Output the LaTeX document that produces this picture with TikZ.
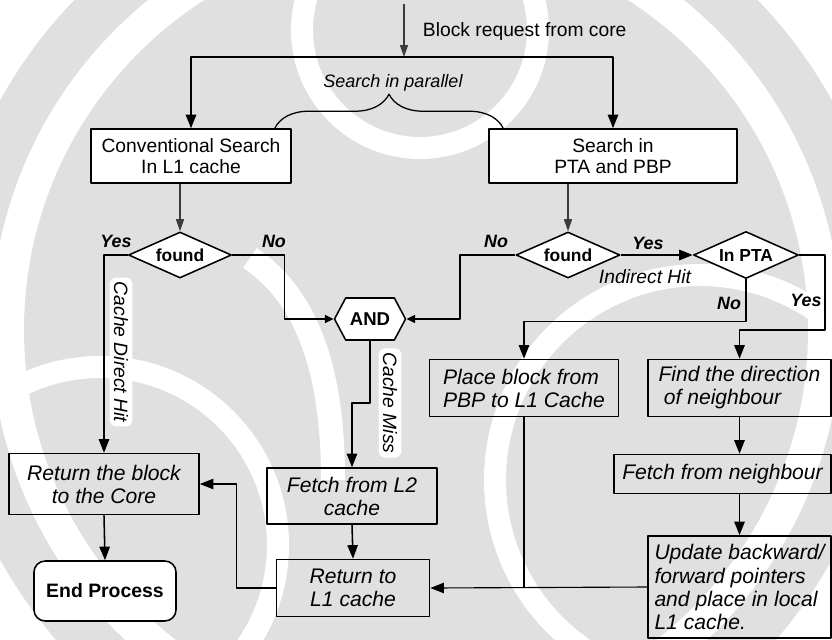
\documentclass[tikz,border=0pt]{standalone}
\usepackage{fontspec}
\setmainfont{Liberation Sans}
\usetikzlibrary{arrows.meta,shapes.geometric,shapes.symbols,decorations.pathreplacing}
\definecolor{wmgray}{RGB}{224,224,224}
\definecolor{tipgray}{RGB}{60,60,60}

\tikzset{
  plainbox/.style={draw, line width=1.1pt, fill=white, align=center, inner sep=2pt, font=\fontsize{13.7}{15}\selectfont},
  stepbox/.style={draw, line width=1.1pt, align=center, inner sep=2pt, font=\fontsize{15}{16.4}\selectfont\itshape},
  decision/.style={diamond, aspect=2.25, draw, line width=1.1pt, fill=white, inner sep=0pt, font=\fontsize{12.4}{14}\selectfont\bfseries},
  gate/.style={signal, signal to=east and west, signal pointer angle=124, draw, line width=1.1pt, fill=white, inner sep=0pt, font=\fontsize{13.2}{15}\selectfont\bfseries},
  answer/.style={font=\fontsize{12.7}{14}\selectfont\bfseries\itshape, inner sep=0pt},
  note/.style={font=\fontsize{13.7}{15}\selectfont\itshape, inner sep=1pt},
  sidenote/.style={note, fill=white, rounded corners=4pt, inner sep=3pt, rotate=-90},
  flow/.style={->, line width=1.1pt},
  thinflow/.style={->, line width=0.8pt},
  smallflow/.style={flow, >={Triangle[length=0.22cm,width=0.2cm]}},
  feed/.style={->, line width=0.9pt, draw=tipgray, fill=tipgray, >={Triangle[length=0.3cm,width=0.2cm]}},
}

\begin{document}
\begin{tikzpicture}[x=0.025cm, y=-0.025cm, line join=round, >={Triangle[length=0.34cm,width=0.26cm]}]
\useasboundingbox (0,0) rectangle (832,639);
% watermark behind the chart
\begin{scope}
\clip (0,0) rectangle (832,639);
\fill[wmgray] (416,330) circle (475);
\fill[white] (416,330) circle (425);
\fill[wmgray] (416,330) circle (392);
\draw[white, line width=0.55cm] (420,30) circle (118);
\draw[white, line width=0.55cm] (700,480) circle (205);
\draw[white, line width=0.55cm] (100,545) circle (178);
\draw[white, line width=0.6cm] (250,258) .. controls (312,300) and (333,380) .. (333,480);
\end{scope}

% searches
\node[plainbox, minimum width=5cm, minimum height=1.35cm] (conv) at (191,156) {Conventional Search\\In L1 cache};
\node[plainbox, minimum width=6.2cm, minimum height=1.35cm] (ptasearch) at (613,156) {Search in\\PTA and PBP};
\node[anchor=west, font=\fontsize{13.7}{15}\selectfont] (request) at (418,32) {Block request from core};
\node[note, font=\fontsize{12.8}{14}\selectfont\itshape] (parallel) at (393,83) {Search in parallel};

% decisions
\node[decision, minimum width=2.575cm, minimum height=1.15cm] (found1) at (180,255) {found};
\node[decision, minimum width=2.6cm, minimum height=1.15cm] (found2) at (568,255) {found};
\node[decision, minimum width=2.625cm, minimum height=1.175cm] (inpta) at (746,255) {In PTA};
\node[gate, minimum width=1.775cm, minimum height=1.05cm] (andgate) at (370,319) {AND};

% steps
\node[stepbox, minimum width=4.75cm, minimum height=1.525cm] (retcore) at (104,484) {Return the block\\to the Core};
\node[plainbox, rounded corners=0.28cm, font=\fontsize{13.8}{15}\selectfont\bfseries, minimum width=3.55cm, minimum height=1.5cm] (endproc) at (105,591) {End Process};
\node[stepbox, minimum width=4.25cm, minimum height=1.4cm] (fetchl2) at (352,496) {Fetch from L2\\cache};
\node[stepbox, minimum width=3.825cm, minimum height=1.425cm] (retl1) at (353,588) {Return to\\L1 cache};
\node[stepbox, align=left, minimum width=4.725cm, minimum height=1.425cm] (place) at (524,388) {Place block from\\PBP to L1 Cache};
\node[stepbox, align=left, minimum width=4.575cm, minimum height=1.425cm] (finddir) at (739.5,388) {Find the direction\\\hspace{0.25em}of neighbour};
\node[stepbox, minimum width=5.425cm, minimum height=0.975cm] (fetchnb) at (722.5,474) {Fetch from neighbour};
\node[stepbox, align=left, minimum width=4.575cm, minimum height=2.55cm] (update) at (739.5,587) {Update backward/\\forward pointers\\and place in local\\L1 cache.};

% branch labels
\node[answer] (yes1) at (116,241) {Yes};
\node[answer] (no1) at (274,241) {No};
\node[answer] (no2) at (496,241) {No};
\node[answer] (yes2) at (648,243) {Yes};
\node[note] (indirect) at (645,277) {Indirect Hit};
\node[answer] (no3) at (729,303) {No};
\node[answer] (yes3) at (806,300) {Yes};
\node[sidenote] (directhit) at (121,352) {Cache Direct Hit};
\node[sidenote] (cachemiss) at (390,403) {Cache Miss};

% connectors
\coordinate (source) at (404,4);
\coordinate (fork) at (404,57);
\coordinate (yesbend) at (825,330);
\coordinate (missbend) at (370,403);
\draw[feed] (source) -- (fork);
\draw[flow] (fork) -| (conv.north);
\draw[flow] (fork) -| (ptasearch.north);
\draw[decorate, decoration={brace, amplitude=0.85cm}, line width=0.9pt] ([xshift=-0.425cm]conv.north east) -- ([xshift=0.375cm]ptasearch.north west);
\draw[feed] (conv.south -| found1.north) -- (found1.north);
\draw[feed] (ptasearch.south -| found2.north) -- (found2.north);
\draw[flow] (found1.west) -| (retcore.north);
\draw[smallflow] (found1.east) -- ++(52,0) |- (andgate.west);
\draw[smallflow] (found2.west) -- ++(-55,0) |- (andgate.east);
\draw[flow] (found2.east) -- (inpta.west);
\draw[flow] (inpta.south) -- ++(0,42) -| (place.north);
\draw[flow] (inpta.east) -| (yesbend) -| (finddir.north);
\draw[flow] (andgate.south) -- (missbend) -| (fetchl2.north);
\draw[flow] (fetchl2.south) -- (retl1.north);
\draw[thinflow] (retl1.west) -- ++(-39,0) |- (retcore.east);
\draw[flow] (retcore.south) -- (endproc.north);
\draw[flow] (finddir.south) -- (finddir.south |- fetchnb.north);
\draw[flow] (update.north |- fetchnb.south) -- (update.north);
\draw[thinflow] (update.west) -- (retl1.east);
\draw[line width=0.8pt] (place.south) -- (place.south |- retl1.east);
\end{tikzpicture}
\end{document}
